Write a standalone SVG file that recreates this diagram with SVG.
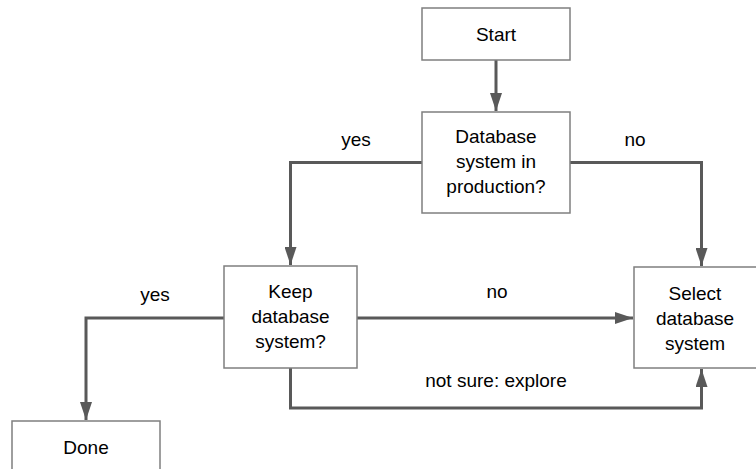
<svg xmlns="http://www.w3.org/2000/svg" width="756" height="469" viewBox="0 0 756 469">
  <defs>
    <marker id="arrow" viewBox="0 0 18 12" refX="18" refY="6" markerWidth="18" markerHeight="12" markerUnits="userSpaceOnUse" orient="auto">
      <path d="M0,0 L18,6 L0,12 Z" fill="#595959"/>
    </marker>
    <style>
      .box { fill: #ffffff; stroke: #7f7f7f; stroke-width: 1.5; }
      .label { font-family: "Liberation Sans", Arial, sans-serif; font-size: 19px; fill: #000000; text-anchor: middle; }
      .edge { fill: none; stroke: #595959; stroke-width: 3; marker-end: url(#arrow); }
    </style>
  </defs>
  <rect width="756" height="469" fill="#ffffff"/>

  <g id="connectors">
    <path class="edge" d="M496,60 V111"/>
    <path class="edge" d="M422,162.5 H290.5 V265"/>
    <path class="edge" d="M570,162.5 H701.5 V266"/>
    <path class="edge" d="M224,318 H86 V420"/>
    <path class="edge" d="M357,318 H633"/>
    <path class="edge" d="M290.5,368 V408 H701.5 V369"/>
  </g>

  <g id="edge-labels">
    <text class="label" x="356" y="146">yes</text>
    <text class="label" x="635" y="146">no</text>
    <text class="label" x="155" y="301">yes</text>
    <text class="label" x="497" y="298">no</text>
    <text class="label" x="496" y="387">not sure: explore</text>
  </g>

  <g id="start">
    <rect class="box" x="422" y="8" width="148" height="52"/>
    <text class="label" x="496" y="41">Start</text>
  </g>

  <g id="in-production">
    <rect class="box" x="422" y="112" width="148" height="101"/>
    <text class="label" x="496" y="143">Database</text>
    <text class="label" x="496" y="168">system in</text>
    <text class="label" x="496" y="193">production?</text>
  </g>

  <g id="keep">
    <rect class="box" x="224" y="266" width="133" height="102"/>
    <text class="label" x="290.5" y="298">Keep</text>
    <text class="label" x="290.5" y="323">database</text>
    <text class="label" x="290.5" y="348">system?</text>
  </g>

  <g id="select">
    <rect class="box" x="634" y="267" width="124" height="101"/>
    <text class="label" x="695" y="300">Select</text>
    <text class="label" x="695" y="325">database</text>
    <text class="label" x="695" y="350">system</text>
  </g>

  <g id="done">
    <rect class="box" x="12" y="421" width="148" height="60"/>
    <text class="label" x="86" y="454">Done</text>
  </g>
</svg>
